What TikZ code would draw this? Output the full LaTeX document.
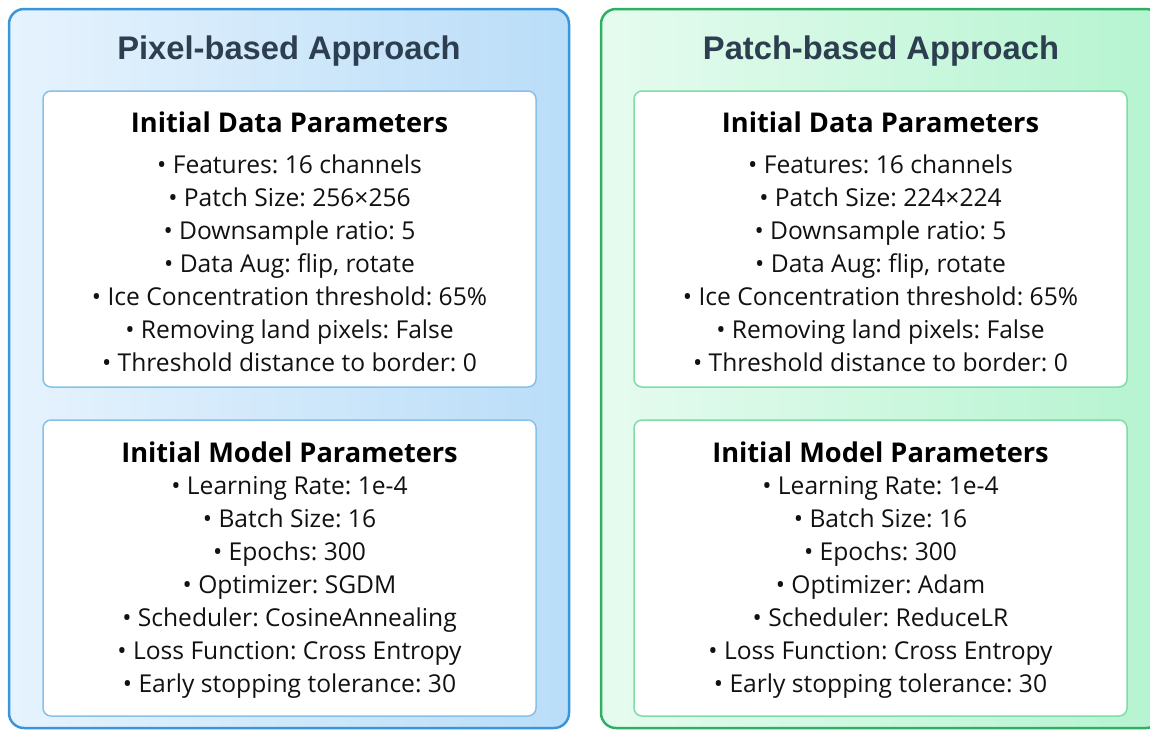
\documentclass[tikz,border=0pt]{standalone}
\usepackage{fontspec}
\setmainfont{Open Sans}
\newfontfamily\headfont{Liberation Sans}
\frenchspacing
\definecolor{bluebd}{HTML}{3A96DB}
\definecolor{blueL}{HTML}{E6F3FD}
\definecolor{blueR}{HTML}{BADDF8}
\definecolor{blueinner}{HTML}{85C1E9}
\definecolor{greenbd}{HTML}{2EB063}
\definecolor{greenL}{HTML}{E6FBEF}
\definecolor{greenR}{HTML}{B5F4D0}
\definecolor{greeninner}{HTML}{7FDCA6}
\definecolor{headcol}{HTML}{2C3E50}
\definecolor{txt}{HTML}{111111}
\tikzset{
  panel/.style={rounded corners=15pt, line width=2.5pt, inner sep=0pt, minimum width=560pt, minimum height=719pt},
  bluepanel/.style={panel, draw=bluebd, left color=blueL, right color=blueR},
  greenpanel/.style={panel, draw=greenbd, left color=greenL, right color=greenR},
  inbox/.style={rounded corners=8pt, line width=1.5pt, fill=white, inner sep=0pt, minimum width=493pt, minimum height=296pt},
  headtxt/.style={anchor=base, inner sep=0pt, text=headcol, font=\headfont\bfseries\fontsize{32.7}{38}\selectfont},
  boxtitle/.style={anchor=base, inner sep=0pt, text=black, font=\bfseries\fontsize{27.2}{32}\selectfont},
  itemtxt/.style={anchor=base, inner sep=0pt, text=txt, font=\fontsize{24.6}{29}\selectfont}
}
\begin{document}
\begin{tikzpicture}[x=1pt,y=-1pt]
\useasboundingbox (0,0) rectangle (1150,729);
\clip (0,0) rectangle (1150,729);
% panels
\node[bluepanel] (pl) at (289,368.5) {};
\node[greenpanel] (pr) at (881,368.5) {};
\node[headtxt] (tl) at (289,59) {Pixel-based Approach};
\node[headtxt] (tr) at (881,59) {Patch-based Approach};
% inner boxes
\node[inbox, draw=blueinner] (dl) at (289.5,239) {};
\node[inbox, draw=blueinner] (ml) at (289.5,568) {};
\node[inbox, draw=greeninner] (dr) at (880.5,239) {};
\node[inbox, draw=greeninner] (mr) at (880.5,568) {};
% titles
\node[boxtitle] (dlt) at (289.5,132) {Initial Data Parameters};
\node[boxtitle] (mlt) at (289.5,462) {Initial Model Parameters};
\node[boxtitle] (drt) at (880.5,132) {Initial Data Parameters};
\node[boxtitle] (mrt) at (880.5,462) {Initial Model Parameters};
% items
\foreach \t [count=\i] in {{• Features: 16 channels},{• Patch Size: 256×256},{• Downsample ratio: 5},{• Data Aug: flip, rotate},{• Ice Concentration threshold: 65\%},{• Removing land pixels: False},{• Threshold distance to border: 0}}
  \node[itemtxt] (dl\i) at (289.5,{173+33*(\i-1)}) {\t};
\foreach \t [count=\i] in {{• Features: 16 channels},{• Patch Size: 224×224},{• Downsample ratio: 5},{• Data Aug: flip, rotate},{• Ice Concentration threshold: 65\%},{• Removing land pixels: False},{• Threshold distance to border: 0}}
  \node[itemtxt] (dr\i) at (880.5,{173+33*(\i-1)}) {\t};
\foreach \t [count=\i] in {{• Learning Rate: 1e-4},{• Batch Size: 16},{• Epochs: 300},{• Optimizer: SGDM},{• Scheduler: CosineAnnealing},{• Loss Function: Cross Entropy},{• Early stopping tolerance: 30}}
  \node[itemtxt] (ml\i) at (289.5,{494+33*(\i-1)}) {\t};
\foreach \t [count=\i] in {{• Learning Rate: 1e-4},{• Batch Size: 16},{• Epochs: 300},{• Optimizer: Adam},{• Scheduler: ReduceLR},{• Loss Function: Cross Entropy},{• Early stopping tolerance: 30}}
  \node[itemtxt] (mr\i) at (880.5,{494+33*(\i-1)}) {\t};
\end{tikzpicture}
\end{document}
